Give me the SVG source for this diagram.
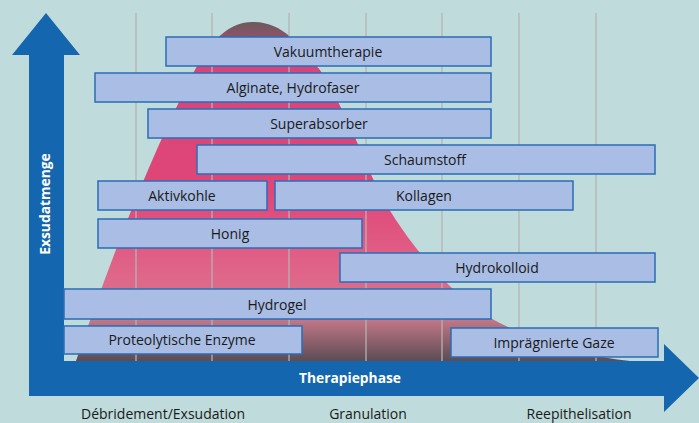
<svg xmlns="http://www.w3.org/2000/svg" width="699" height="423" viewBox="0 0 699 423">
<defs>
<linearGradient id="bell" x1="0" y1="22" x2="0" y2="361" gradientUnits="userSpaceOnUse">
<stop offset="0" stop-color="#6a5a5e"/>
<stop offset="0.13" stop-color="#d8457a"/>
<stop offset="0.5" stop-color="#e04678"/>
<stop offset="0.75" stop-color="#e0668a"/>
<stop offset="0.87" stop-color="#c97a8c"/>
<stop offset="1" stop-color="#5c4c52"/>
</linearGradient>
<style>
.box{fill:#a9bde5;stroke:#2a6db5;stroke-width:1.5}
.lbl{font-family:"Open Sans","Noto Sans",sans-serif;font-size:14px;fill:#1a1a1a;text-anchor:middle}
.ax{font-family:"Open Sans","Noto Sans",sans-serif;font-size:13.8px;font-weight:bold;fill:#ffffff;text-anchor:middle}
.grid{stroke:#b4b4b4;stroke-width:1.5;stroke-opacity:0.85}
.arrow{fill:#1467ae}
</style>
</defs>
<rect width="699" height="423" fill="#bfdbdb"/>
<path d="M76,361 C110,260 150,160 180,100 C205,45 225,22 253,22 C283,22 300,45 320,70 C345,110 360,150 375,183 C395,225 430,270 470,305 C520,340 580,355 630,361 Z" fill="url(#bell)"/>
<g id="grid">
<line class="grid" x1="136" y1="13" x2="136" y2="361"/>
<line class="grid" x1="212" y1="13" x2="212" y2="361"/>
<line class="grid" x1="289" y1="13" x2="289" y2="361"/>
<line class="grid" x1="366" y1="13" x2="366" y2="361"/>
<line class="grid" x1="442" y1="13" x2="442" y2="361"/>
<line class="grid" x1="519" y1="13" x2="519" y2="361"/>
<line class="grid" x1="596" y1="13" x2="596" y2="361"/>
</g>
<g id="axes">
<path class="arrow" d="M29,396 L29,55 L12,55 L46,13 L80,55 L64,55 L64,361 L664,361 L664,344 L699,378 L664,412 L664,396 Z"/>
<text class="ax" transform="translate(50,204) rotate(-90)">Exsudatmenge</text>
<text class="ax" x="350" y="383">Therapiephase</text>
</g>
<g id="vakuumtherapie"><rect class="box" x="166" y="37" width="325" height="29"/><text class="lbl" x="328" y="57">Vakuumtherapie</text></g>
<g id="alginate"><rect class="box" x="95" y="73" width="396" height="29"/><text class="lbl" x="293" y="93">Alginate, Hydrofaser</text></g>
<g id="superabsorber"><rect class="box" x="148" y="109" width="343" height="29"/><text class="lbl" x="319" y="129">Superabsorber</text></g>
<g id="schaumstoff"><rect class="box" x="197" y="145" width="458" height="29"/><text class="lbl" x="425" y="165">Schaumstoff</text></g>
<g id="aktivkohle"><rect class="box" x="98" y="181" width="169" height="29"/><text class="lbl" x="182" y="201">Aktivkohle</text></g>
<g id="kollagen"><rect class="box" x="275" y="181" width="298" height="29"/><text class="lbl" x="424" y="201">Kollagen</text></g>
<g id="honig"><rect class="box" x="98" y="219" width="264" height="29"/><text class="lbl" x="230" y="239">Honig</text></g>
<g id="hydrokolloid"><rect class="box" x="340" y="253" width="315" height="29"/><text class="lbl" x="497" y="273">Hydrokolloid</text></g>
<g id="hydrogel"><rect class="box" x="64" y="289" width="427" height="30"/><text class="lbl" x="277" y="310">Hydrogel</text></g>
<g id="enzyme"><rect class="box" x="64" y="326" width="238" height="28"/><text class="lbl" x="182" y="345">Proteolytische Enzyme</text></g>
<g id="gaze"><rect class="box" x="451" y="328" width="207" height="29"/><text class="lbl" x="554" y="348">Imprägnierte Gaze</text></g>
<g id="phases">
<text class="lbl" x="163" y="419">Débridement/Exsudation</text>
<text class="lbl" x="368" y="419">Granulation</text>
<text class="lbl" x="579" y="419">Reepithelisation</text>
</g>
</svg>
